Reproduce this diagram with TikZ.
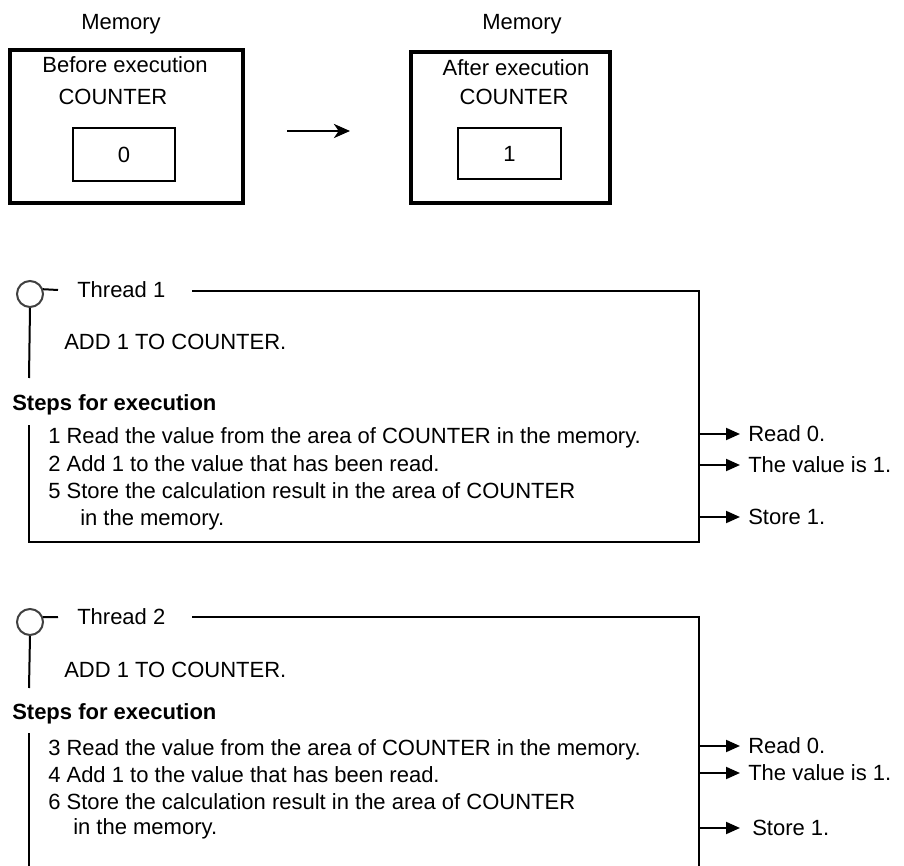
\documentclass[tikz,border=0pt]{standalone}
\usepackage{fontspec}
\setmainfont{Liberation Sans}
\usetikzlibrary{arrows.meta}
\tikzset{
  txt/.style={inner sep=0pt, text height=11.8pt, text depth=0pt, font=\fontsize{16.5}{19.8}\selectfont},
  ltxt/.style={txt, anchor=west},
  btxt/.style={txt, anchor=west, font=\fontsize{16.5}{19.8}\selectfont\bfseries},
  membox/.style={draw, line width=3pt, inner sep=0pt},
  valbox/.style={draw, line width=1.5pt, inner sep=0pt, font=\fontsize{16.5}{19.8}\selectfont},
  frame/.style={line width=1.5pt},
  knob/.style={draw=black!75, line width=1.5pt, circle, minimum size=26*0.75pt, inner sep=0pt},
  sarrow/.style={line width=1.5pt, -{Triangle[length=10.5pt,width=9pt]}},
  rtxt/.style={txt, anchor=west, inner xsep=6pt, inner ysep=0pt},
}
\begin{document}
\begin{tikzpicture}[x=0.75pt, y=-0.75pt]
\useasboundingbox (0,0) rectangle (904,866);

% ---- top: memory before / after ----
\node[txt] (mem1) at (121,22) {Memory};
\node[membox, minimum width=233*0.75pt, minimum height=153*0.75pt] (box1) at (126.5,126.5) {};
\node[txt] (before) at (125,65) {Before execution};
\node[txt] (cnt1) at (113,97) {COUNTER};
\node[valbox, minimum width=102*0.75pt, minimum height=53*0.75pt] (v0) at (124,154.5) {0};

\coordinate (ma) at (287,131);
\coordinate (mb) at (350,131);
\draw[line width=2pt, -{Stealth[length=12pt,width=10.5pt,inset=3.5pt]}] (ma) -- (mb);

\node[txt] (mem2) at (522,22) {Memory};
\node[membox, minimum width=199*0.75pt, minimum height=151*0.75pt] (box2) at (510.5,127.5) {};
\node[txt] (after) at (516,68) {After execution};
\node[txt] (cnt2) at (514,97) {COUNTER};
\node[valbox, minimum width=103*0.75pt, minimum height=51*0.75pt] (v1) at (509.5,153.5) {1};

% ---- Thread 1 ----
\node[knob] (k1) at (30,294) {};
\coordinate (k1t) at (58,290);
\draw[frame] (k1.20) -- (k1t);
\node[ltxt] (th1) at (77,290) {Thread 1};
\coordinate (t1a) at (192,291);
\coordinate (t1b) at (699,291);
\coordinate (t1c) at (699,542);
\coordinate (t1d) at (29,542);
\coordinate (t1e) at (29,425);
\coordinate (t1f) at (29,378);
\draw[frame] (t1a) -- (t1b) -- (t1c) -- (t1d) -- (t1e);
\draw[frame] (k1.south) -- (t1f);
\node[ltxt] (add1) at (64,342) {ADD 1 TO COUNTER.};
\node[btxt] (st1) at (12,403) {Steps for execution};
\node[ltxt] (s1) at (48,436) {1 Read the value from the area of COUNTER in the memory.};
\node[ltxt] (s2) at (48,464) {2 Add 1 to the value that has been read.};
\node[ltxt] (s5) at (48,491) {5 Store the calculation result in the area of COUNTER};
\node[ltxt] (s5b) at (80,518) {in the memory.};

\coordinate (r1a) at (699,434);
\coordinate (r1b) at (699,465);
\coordinate (r1c) at (699,517);
\node[rtxt] (o1a) at (740,434) {Read 0.};
\node[rtxt] (o1b) at (740,465) {The value is 1.};
\node[rtxt] (o1c) at (740,517) {Store 1.};
\draw[sarrow] (r1a) -- (o1a.west);
\draw[sarrow] (r1b) -- (o1b.west);
\draw[sarrow] (r1c) -- (o1c.west);

% ---- Thread 2 ----
\node[knob] (k2) at (30,622) {};
\coordinate (k2t) at (58,617);
\draw[frame] (k2.20) -- (k2t);
\node[ltxt] (th2) at (77,617) {Thread 2};
\coordinate (t2a) at (192,617);
\coordinate (t2b) at (699,617);
\coordinate (t2c) at (699,866);
\coordinate (t2e) at (29,733);
\coordinate (t2d) at (29,866);
\coordinate (t2f) at (29,688);
\draw[frame] (t2a) -- (t2b) -- (t2c);
\draw[frame] (t2e) -- (t2d);
\draw[frame] (k2.south) -- (t2f);
\node[ltxt] (add2) at (64,670) {ADD 1 TO COUNTER.};
\node[btxt] (st2) at (12,712) {Steps for execution};
\node[ltxt] (s3) at (48,748) {3 Read the value from the area of COUNTER in the memory.};
\node[ltxt] (s4) at (48,775) {4 Add 1 to the value that has been read.};
\node[ltxt] (s6) at (48,802) {6 Store the calculation result in the area of COUNTER};
\node[ltxt] (s6b) at (73,827) {in the memory.};

\coordinate (r2a) at (699,746);
\coordinate (r2b) at (699,773);
\coordinate (r2c) at (699,828);
\node[rtxt] (o2a) at (740,746) {Read 0.};
\node[rtxt] (o2b) at (740,773) {The value is 1.};
\node[rtxt, inner xsep=0pt] (o2c) at (752,828) {Store 1.};
\coordinate (o2cx) at (740,828);
\draw[sarrow] (r2a) -- (o2a.west);
\draw[sarrow] (r2b) -- (o2b.west);
\draw[sarrow] (r2c) -- (o2cx);
\end{tikzpicture}
\end{document}
